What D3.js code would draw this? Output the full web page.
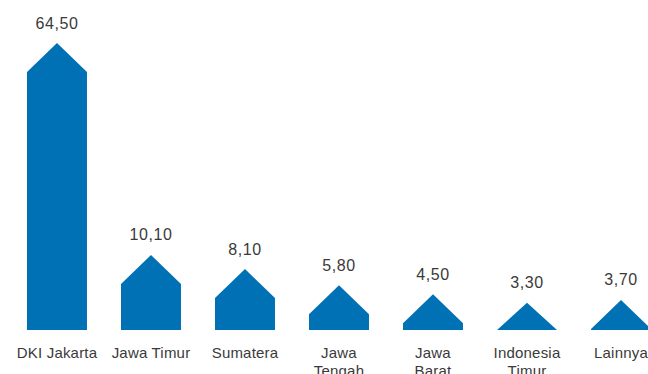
<!DOCTYPE html>
<html>
<head>
<meta charset="utf-8">
<script src="https://cdn.jsdelivr.net/npm/d3@7"></script>
<style>
  body { margin: 0; background: #fff; }
  svg { display: block; font-family: 'Liberation Sans', Arial, sans-serif; }
  .value { font-size: 16px; fill: #3a3a3a; letter-spacing: 0.6px; }
  .cat { font-size: 15px; fill: #3a3a3a; letter-spacing: 0.2px; }
</style>
</head>
<body>
<svg id="chart" width="648" height="374"></svg>
<script>
const categories = ['DKI Jakarta', 'Jawa Timur', 'Sumatera', 'Jawa Tengah', 'Jawa Barat', 'Indonesia Timur', 'Lainnya'];
const tickLabels = ['DKI Jakarta', 'Jawa Timur', 'Sumatera', 'Jawa\nTengah', 'Jawa\nBarat', 'Indonesia\nTimur', 'Lainnya'];
const values = [64.5, 10.1, 8.1, 5.8, 4.5, 3.3, 3.7];
const valueLabels = ['64,50', '10,10', '8,10', '5,80', '4,50', '3,30', '3,70'];

const option = {
  baseY: 330,
  roofHeight: 29,
  color: '#0071b5'
};

const svg = d3.select('#chart');

// band positions for the "house" bars
const xScale = d3.scaleBand()
  .domain(categories)
  .range([27, 651])
  .paddingInner(0.362)
  .paddingOuter(0);

// broken scale: small values linear, the big one squeezed
const yScale = d3.scaleLinear()
  .domain([0, 12, 64.5])
  .range([326, 241.6, 43]);

const data = categories.map((c, i) => ({ cat: c, value: values[i], label: valueLabels[i], tick: tickLabels[i] }));

function housePath(d) {
  const x0 = xScale(d.cat);
  const w = xScale.bandwidth();
  const apex = yScale(d.value);
  const shoulder = Math.min(apex + option.roofHeight, option.baseY);
  return `M${x0},${option.baseY} L${x0},${shoulder} L${x0 + w / 2},${apex} L${x0 + w},${shoulder} L${x0 + w},${option.baseY} Z`;
}

svg.selectAll('.bar')
  .data(data)
  .enter()
  .append('path')
    .attr('class', 'bar')
    .attr('d', housePath)
    .style('fill', option.color);

svg.selectAll('.value')
  .data(data)
  .enter()
  .append('text')
    .attr('class', 'value')
    .attr('x', d => xScale(d.cat) + xScale.bandwidth() / 2)
    .attr('y', d => yScale(d.value) - 14.5)
    .attr('text-anchor', 'middle')
    .text(d => d.label);

// category labels, some on two lines
svg.selectAll('.cat')
  .data(data)
  .enter()
  .append('text')
    .attr('class', 'cat')
    .attr('text-anchor', 'middle')
    .attr('y', 358)
    .each(function(d) {
      const cx = xScale(d.cat) + xScale.bandwidth() / 2;
      d3.select(this).selectAll('tspan')
        .data(d.tick.split('\n'))
        .enter()
        .append('tspan')
          .attr('x', cx)
          .attr('dy', (w, i) => i === 0 ? 0 : 17.5)
          .text(w => w);
    });
</script>
</body>
</html>
